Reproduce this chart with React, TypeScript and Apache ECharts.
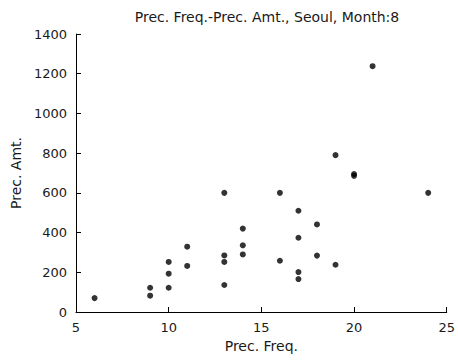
import React, { useEffect, useRef } from "react";
import * as echarts from "echarts";

const precFreq = [6, 9, 9, 10, 10, 10, 11, 11, 13, 13, 13, 13, 14, 14, 14, 16, 16, 17, 17, 17, 17, 18, 18, 19, 19, 20, 20, 21, 24];
const precAmt = [70, 122, 82, 252, 193, 122, 329, 232, 600, 285, 252, 136, 420, 336, 290, 600, 258, 510, 374, 201, 166, 441, 284, 790, 238, 695, 686, 1238, 600];

const titleText = "Prec. Freq.-Prec. Amt., Seoul, Month:8";
const xLabel = "Prec. Freq.";
const yLabel = "Prec. Amt.";

export default function App() {
  const ref = useRef<HTMLDivElement>(null);
  useEffect(() => {
    if (!ref.current) return;
    const chart = echarts.init(ref.current, null, { renderer: "svg" });
    const font = "DejaVu Sans, sans-serif";
    const col = "#1a1a1a";
    chart.setOption({
      animation: false,
      backgroundColor: "#fff",
      title: {
        text: titleText,
        left: 262,
        textAlign: "center",
        top: 5,
        textStyle: { fontSize: 14, fontWeight: "normal", color: col, fontFamily: font },
      },
      grid: { left: 76, right: 6, top: 34, bottom: 49 },
      xAxis: {
        type: "value",
        min: 5,
        max: 25,
        interval: 5,
        name: xLabel,
        nameLocation: "middle",
        nameGap: 26,
        nameTextStyle: { fontSize: 14, color: col, fontFamily: font },
        axisLine: { show: true, lineStyle: { color: "#000", width: 1 } },
        axisTick: { show: true, inside: true, length: 5, lineStyle: { color: "#000" } },
        axisLabel: { fontSize: 13, color: col, fontFamily: font, margin: 9 },
        splitLine: { show: false },
      },
      yAxis: {
        type: "value",
        min: 0,
        max: 1400,
        interval: 200,
        name: yLabel,
        nameLocation: "middle",
        nameGap: 52,
        nameRotate: 90,
        nameTextStyle: { fontSize: 14, color: col, fontFamily: font },
        axisLine: { show: true, lineStyle: { color: "#000", width: 1 } },
        axisTick: { show: true, inside: true, length: 5, lineStyle: { color: "#000" } },
        axisLabel: { fontSize: 13, color: col, fontFamily: font, margin: 9, formatter: (v: number) => String(v) },
        splitLine: { show: false },
      },
      series: [
        {
          type: "scatter",
          data: precFreq.map((x, i) => [x, precAmt[i]]),
          symbol: "circle",
          symbolSize: 6,
          itemStyle: { color: "#000" },
        },
      ],
    });
    return () => chart.dispose();
  }, []);
  return <div ref={ref} style={{ width: 458, height: 361, position: "absolute", left: 0, top: 0 }} />;
}
